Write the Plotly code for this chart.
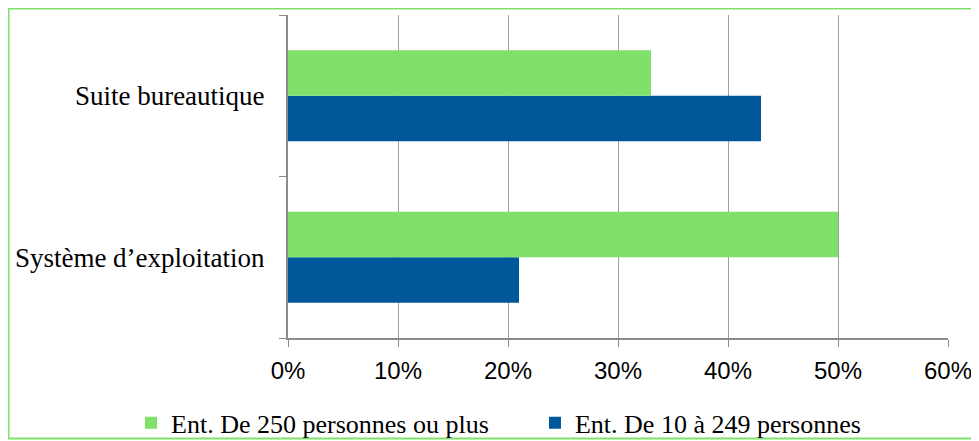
import plotly.graph_objects as go

# données
categories = ["Système d’exploitation", "Suite bureautique"]
grandes_ent = [50, 33]      # Ent. De 250 personnes ou plus
petites_ent = [21, 43]      # Ent. De 10 à 249 personnes
tick_vals = [0, 10, 20, 30, 40, 50, 60]
tick_text = ["0%", "10%", "20%", "30%", "40%", "50%", "60%"]

GREEN = "#7FE06A"
BLUE = "#005799"
SERIF = "Liberation Serif"
SANS = "Liberation Sans"

fig = go.Figure()

# la première trace est dessinée en bas de chaque groupe
fig.add_trace(
    go.Bar(
        y=categories,
        x=petites_ent,
        orientation="h",
        name="Ent. De 10 à 249 personnes",
        marker=dict(color=BLUE, line=dict(width=0)),
        legend="legend2",
    )
)
fig.add_trace(
    go.Bar(
        y=categories,
        x=grandes_ent,
        orientation="h",
        name="Ent. De 250 personnes ou plus",
        marker=dict(color=GREEN, line=dict(width=0)),
        legend="legend",
    )
)

legend_style = dict(
    orientation="h",
    xref="container",
    yref="container",
    xanchor="left",
    y=0.042,
    yanchor="middle",
    bgcolor="rgba(0,0,0,0)",
    font=dict(family=SERIF, size=26),
    itemwidth=30,
)

fig.update_layout(
    width=971,
    height=433,
    barmode="group",
    bargap=0.437,
    bargroupgap=0,
    paper_bgcolor="white",
    plot_bgcolor="white",
    margin=dict(l=280, r=31, t=7, b=103, autoexpand=False),
    font=dict(family=SERIF, size=26, color="black"),
    showlegend=True,
    legend=dict(x=0.1267, **legend_style),
    legend2=dict(x=0.5427, **legend_style),
    # cadre vert autour du graphique
    shapes=[
        dict(
            type="rect",
            xref="paper",
            yref="paper",
            x0=-0.4235,
            x1=1.1,
            y0=-0.3111,
            y1=1.0201,
            line=dict(color=GREEN, width=2),
            fillcolor="rgba(0,0,0,0)",
            layer="below",
        )
    ],
)

fig.update_xaxes(
    range=[0, 60],
    tickvals=tick_vals,
    ticktext=tick_text,
    showgrid=True,
    gridcolor="#A0A0A0",
    gridwidth=1,
    zeroline=False,
    showline=True,
    linecolor="#8C8C8C",
    linewidth=2,
    ticks="outside",
    ticklen=7,
    tickcolor="#8C8C8C",
    ticklabelstandoff=3,
    tickfont=dict(family=SANS, size=24),
)

fig.update_yaxes(
    type="category",
    categoryorder="array",
    categoryarray=categories,
    tickson="boundaries",
    showgrid=False,
    showline=True,
    linecolor="#8C8C8C",
    linewidth=2,
    ticks="outside",
    ticklen=7,
    tickcolor="#8C8C8C",
    ticklabelstandoff=16,
    tickfont=dict(family=SERIF, size=27),
)

fig.write_html("out.html")
